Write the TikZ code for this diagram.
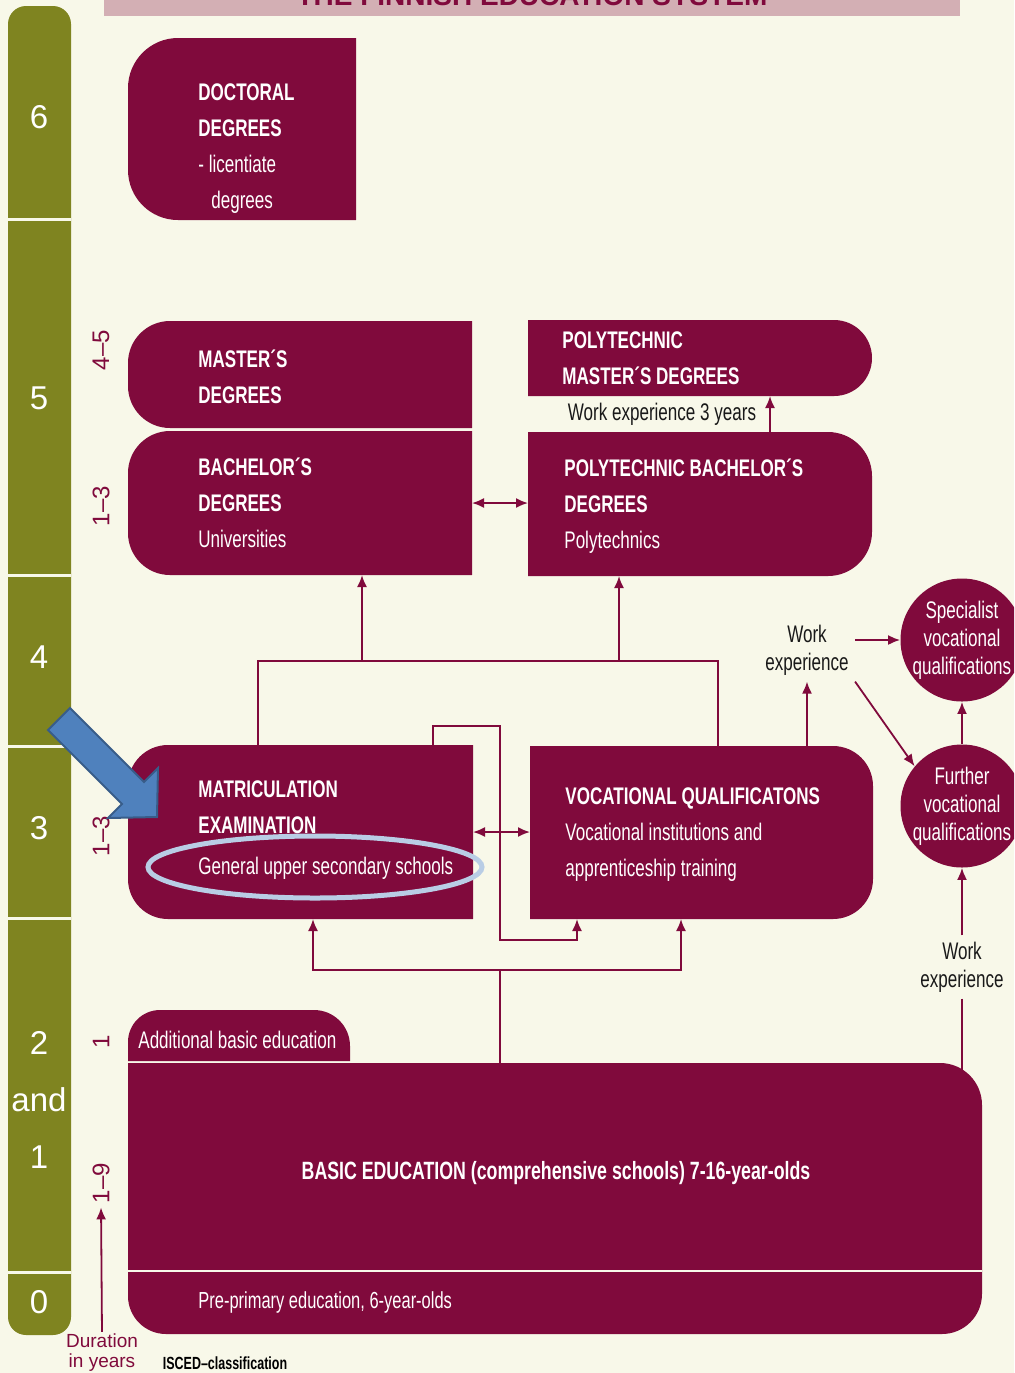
\documentclass[tikz,border=0pt]{standalone}
\usepackage{fontspec}
\setmainfont{Liberation Sans}
\newfontfamily\condf[FakeStretch=0.71]{Liberation Sans}
\usepackage{tikz}
\usetikzlibrary{
  arrows.meta,
  positioning,
  calc
}
\definecolor{edCream}{HTML}{F8F8E9}
\definecolor{edMaroon}{HTML}{800A3C}
\definecolor{edOlive}{HTML}{7F8420}
\definecolor{edTitle}{HTML}{D3AFB4}
\definecolor{edBlue}{HTML}{4F81BD}
\definecolor{edBlueEdge}{HTML}{385D8A}
\definecolor{edOval}{HTML}{B9CDE5}
\tikzset{
  card/.style n args={4}{
    inner sep=0pt, outer sep=0pt, anchor=north west,
    path picture={
      \fill[edMaroon]
        ([yshift=-#1]path picture bounding box.north west)
          arc[start angle=180, end angle=90, radius=#1]
        -- ([xshift=-#2]path picture bounding box.north east)
          arc[start angle=90, end angle=0, radius=#2]
        -- ([yshift=#3]path picture bounding box.south east)
          arc[start angle=0, end angle=-90, radius=#3]
        -- ([xshift=#4]path picture bounding box.south west)
          arc[start angle=270, end angle=180, radius=#4]
        -- cycle;}
  },
  leftcard/.style={card={#1}{0.1pt}{0.1pt}{#1}},
  rightcard/.style={card={0.1pt}{#1}{#1}{0.1pt}},
  headtxt/.style={
    font=\condf\bfseries\fontsize{12}{18}\selectfont, text=white,
    align=left, inner sep=0pt, anchor=north west
  },
  bodytxt/.style={font=\condf\fontsize{12}{14}\selectfont, text=white, inner sep=0pt},
  basichead/.style={font=\condf\bfseries\fontsize{12.5}{14}\selectfont, text=white, inner sep=0pt},
  worktxt/.style={font=\condf\fontsize{12}{14}\selectfont, text=black!90, align=center, inner sep=3pt},
  disc/.style={
    circle, fill=edMaroon, minimum size=61.5pt, inner sep=-2pt, text=white,
    align=center, font=\condf\fontsize{12}{14}\selectfont
  },
  lvlnum/.style={font=\fontsize{16.5}{28.5}\selectfont, text=white, align=center, inner sep=0pt},
  durlabel/.style={font=\fontsize{12}{14}\selectfont, text=edMaroon, rotate=90, inner sep=0pt},
  conn/.style={draw=edMaroon, line width=0.9pt},
  conarrow/.style={conn, -{Latex[length=6pt, width=5pt]}},
  bothways/.style={conn, {Latex[length=6pt, width=5pt]}-{Latex[length=6pt, width=5pt]}},
  gapline/.style={draw=edCream, line width=1.5pt},
  marker/.style={fill=edBlue, draw=edBlueEdge, line width=1pt, line join=miter},
  oval/.style={draw=edOval, line width=2.5pt}
}

\begin{document}
\begin{tikzpicture}[x=0.5pt, y=0.5pt]
  \useasboundingbox (0,0) rectangle (1014,-1373);
  \clip (0,0) rectangle (1014,-1373);
  \fill[edCream] (0,0) rectangle (1014,-1373);

  % title band, cut off at the top
  \fill[edTitle] (104,0) rectangle (960,-16);
  \node[font=\bfseries\fontsize{14}{16}\selectfont, text=edMaroon, anchor=base, inner sep=0pt]
    (title) at (532,-5) {THE FINNISH EDUCATION SYSTEM};

  % ISCED levels
  \fill[edOlive, rounded corners=9pt] (8,-6) rectangle (71,-1335);
  \foreach \yy in {219,575,746,918,1272}
    \draw[gapline] (8,-\yy) -- (71,-\yy);
  \foreach \lab/\yy in {6/117, 5/398, 4/657, 3/828, 0/1302}
    \node[lvlnum] (lvl\lab) at (39,-\yy) {\lab};
  \node[lvlnum] (lvltwoone) at (39,-1100) {2\\and\\1};

  % durations
  \node[durlabel] (dur45) at (101,-350) {4–5};
  \node[durlabel] (dur13a) at (101,-506) {1–3};
  \node[durlabel] (dur13b) at (101,-836) {1–3};
  \node[durlabel] (dur1) at (101,-1042) {1};
  \node[durlabel] (dur19) at (101,-1183) {1–9};
  \node[font=\fontsize{9.5}{10}\selectfont, text=edMaroon, align=center, inner sep=0pt]
    (durtxt) at (102,-1353) {Duration\\in years};
  \node[font=\condf\bfseries\fontsize{8.8}{10}\selectfont, inner sep=0pt]
    (isced) at (225,-1363) {ISCED–classification};
  \draw[conarrow, shorten <=1pt, shorten >=2pt] (durtxt.north) -- (dur19.west);

  % boxes
  \node[leftcard=25pt, minimum width=114pt, minimum height=91pt] (doctoral) at (128,-38) {};
  \node[leftcard=21pt, minimum width=172pt, minimum height=53.5pt] (masters) at (128,-321) {};
  \node[leftcard=21pt, minimum width=172pt, minimum height=72pt,
        below=1.5pt of masters.south west, anchor=north west] (bachelors) {};
  \node[rightcard=19pt, minimum width=172pt, minimum height=38pt] (polymasters) at (528,-320) {};
  \node[rightcard=22pt, minimum width=172pt, minimum height=72pt,
        below=18pt of polymasters.south west, anchor=north west] (polybach) {};
  \node[leftcard=20pt, minimum width=172.5pt, minimum height=87pt] (matric) at (128,-745) {};
  \node[rightcard=20pt, minimum width=171.5pt, minimum height=86.5pt] (voc) at (530,-746) {};
  \node[card={16pt}{18pt}{0.1pt}{0.1pt}, minimum width=111pt, minimum height=25.5pt] (additional) at (128,-1010) {};
  \node[card={0.1pt}{21pt}{20pt}{19pt}, minimum width=427pt, minimum height=135.5pt] (basic) at (128,-1063) {};
  \draw[conn, draw=edCream, line width=1pt] ([yshift=31.5pt]basic.south west) -- ([yshift=31.5pt]basic.south east);
  \node[disc] (special) at (962,-640) {Specialist\\vocational\\qualifications};
  \node[disc] (further) at (962,-806) {Further\\vocational\\qualifications};

  % box texts
  \node[headtxt] (doctoraltxt) at (198,-83.5)
    {DOCTORAL\\DEGREES\\{\mdseries - licentiate}\\{\mdseries\hspace*{6.5pt}degrees}};
  \node[headtxt] (masterstxt) at (198,-349.5) {MASTER´S\\DEGREES};
  \node[headtxt] (bachelorstxt) at (198,-457.5) {BACHELOR´S\\DEGREES\\{\mdseries Universities}};
  \node[headtxt] (polymasterstxt) at (562,-331.5) {POLYTECHNIC\\MASTER´S DEGREES};
  \node[headtxt] (polybachtxt) at (564,-458.5) {POLYTECHNIC BACHELOR´S\\DEGREES\\{\mdseries Polytechnics}};
  \node[headtxt] (matrictxt) at (198,-780.5)
    {MATRICULATION\\EXAMINATION\\[2.5pt]{\mdseries General upper secondary schools}};
  \node[headtxt] (voctxt) at (565,-787.5)
    {VOCATIONAL QUALIFICATONS\\{\mdseries Vocational institutions and}\\{\mdseries apprenticeship training}};
  \node[bodytxt, anchor=west] (additionaltxt) at (138,-1040) {Additional basic education};
  \node[basichead] (basictxt) at (556,-1173) {BASIC EDUCATION (comprehensive schools) 7-16-year-olds};
  \node[bodytxt, anchor=west, font=\condf\fontsize{11.6}{14}\selectfont] (preprimarytxt) at (198,-1302) {Pre-primary education, 6-year-olds};

  % work experience labels
  \node[worktxt, inner sep=0pt] (wexp3) at (662,-414) {Work experience 3 years};
  \node[worktxt] (work1) at (807,-650) {Work\\experience};
  \node[worktxt] (work2) at (962,-967) {Work\\experience};

  % connectors
  \draw[bothways] (bachelors.east) -- (bachelors.east -| polybach.west);
  \draw[bothways] (matric.east) -- (matric.east -| voc.west);
  \coordinate (wexp3arr) at (770,-414);
  \draw[conarrow] (wexp3arr |- polybach.north) -- (wexp3arr |- polymasters.south);

  \coordinate (hubl) at (258,-661);
  \coordinate (hubr) at (718,-661);
  \draw[conn] (hubl |- matric.north) -- (hubl) -- (hubr) -- (hubr |- voc.north);
  \coordinate (tobach) at (362,-661);
  \coordinate (topoly) at (619,-661);
  \draw[conarrow] (tobach) -- (tobach |- bachelors.south);
  \draw[conarrow] (topoly) -- (topoly |- polybach.south);

  \coordinate (loopa) at (433,-726);
  \coordinate (loopb) at (500,-940);
  \coordinate (loopc) at (577,-940);
  \draw[conarrow] (loopa |- matric.north) -- (loopa) -| (loopb) -- (loopc) -- (loopc |- voc.south);

  \coordinate (fork) at (500,-970);
  \coordinate (forkl) at (313,-970);
  \coordinate (forkr) at (681,-970);
  \draw[conn] (fork |- basic.north) -- (fork);
  \draw[conarrow] (fork) -- (forkl) -- (forkl |- matric.south);
  \draw[conarrow] (fork) -- (forkr) -- (forkr |- voc.south);

  \draw[conarrow] (work1.south |- voc.north) -- (work1.south);
  \draw[conarrow] (work1.east |- special.west) -- (special.west);
  \draw[conarrow] (work1.south east) -- (further.140);
  \draw[conarrow] (further.north) -- (special.south);
  \draw[conarrow] (work2.north) -- (further.south);
  \draw[conn] (work2.south) -- ([yshift=-4pt]work2.south |- basic.north);

  % highlight
  \draw[oval] (315,-867) ellipse[x radius=83.5pt, y radius=15.5pt];
  \draw[marker] (70,-708) -- (144,-782) -- (158,-768) -- (157,-817)
    -- (108,-818) -- (122,-804) -- (48,-730) -- cycle;
\end{tikzpicture}
\end{document}
